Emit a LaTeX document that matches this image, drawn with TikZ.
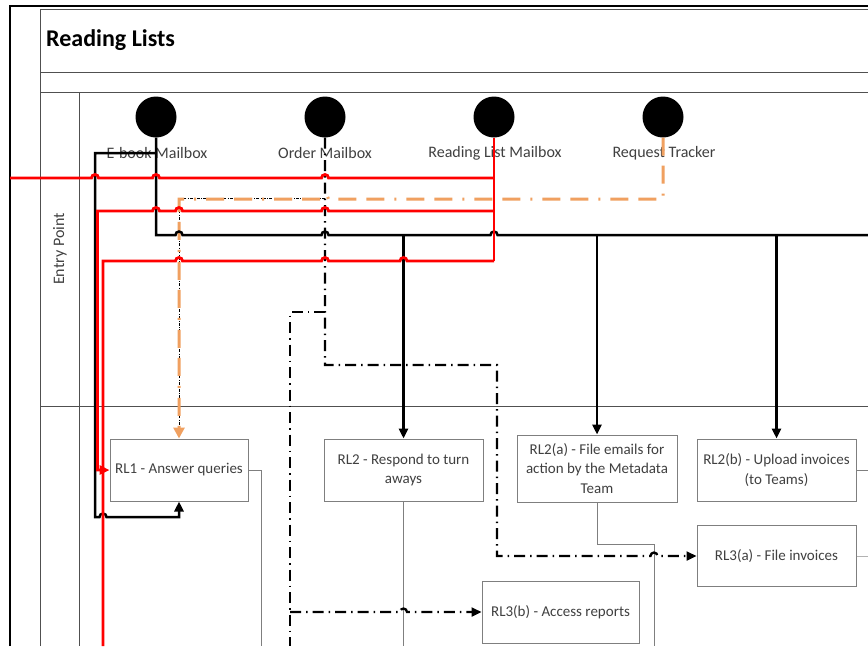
\documentclass[tikz,border=0pt]{standalone}
\usepackage{fontspec}
\setmainfont{Carlito}
\usetikzlibrary{arrows.meta}
\definecolor{tgray}{HTML}{404040}
\definecolor{lgray}{HTML}{7F7F7F}
\definecolor{fgray}{HTML}{505050}
\definecolor{ored}{HTML}{FF0000}
\definecolor{orng}{HTML}{F0A060}
\newcommand\hopR[2]{-- (#1-3.5,#2) arc[start angle=180,end angle=0,radius=3.5pt]}
\newcommand\hopL[2]{-- (#1+3.5,#2) arc[start angle=0,end angle=180,radius=3.5pt]}
\begin{document}
\begin{tikzpicture}[x=1pt,y=-1pt,
  frame/.style={draw=fgray, line width=0.9pt},
  box/.style={draw=lgray, line width=1pt, text=tgray, font=\fontsize{15}{19.5}\selectfont, align=center, inner sep=2pt},
  src/.style={circle, fill=black, minimum size=41pt, inner sep=0pt},
  lab/.style={text=tgray, font=\fontsize{16}{19}\selectfont, inner sep=0pt},
  redl/.style={draw=ored, line width=2.8pt},
  blkl/.style={draw=black, line width=2.5pt},
  dd/.style={draw=black, line width=2.3pt, dash pattern=on 11pt off 5pt on 1.5pt off 5pt},
  orl/.style={draw=orng, line width=3pt, dash pattern=on 18pt off 10pt on 18pt off 10pt on 2pt off 10pt},
  conn/.style={draw=lgray, line width=1pt},
  tipk/.style={-{Triangle[length=10pt,width=9pt]}},
  tipo/.style={-{Triangle[length=11pt,width=11pt]}},
]
\useasboundingbox (0,0) rectangle (868,646);
\fill[white] (0,0) rectangle (868,646);

% frame
\draw[black, line width=2.2pt] (10,646) -- (10,6) -- (868,6);
\draw[frame] (40,646) -- (40,9) -- (868,9);
\draw[frame] (40,72) -- (868,72);
\draw[frame] (40,92) -- (868,92);
\draw[frame] (79,92) -- (79,646);
\draw[frame] (40,406) -- (868,406);

\node[anchor=west, inner sep=0pt, font=\fontsize{24}{28}\selectfont\bfseries] (title) at (46,40) {Reading Lists};
\node[lab, rotate=90] (ep) at (60,249) {Entry Point};

% sources
\node[src] (c1) at (156,117) {};
\node[src] (c2) at (325,117) {};
\node[src] (c3) at (494,117) {};
\node[src] (c4) at (663,117) {};
\node[lab] (l1) at (157,153) {E-book Mailbox};
\node[lab] (l2) at (325,153) {Order Mailbox};
\node[lab] (l3) at (495,153) {Reading List Mailbox};
\node[lab] (l4) at (664,153) {Request Tracker};

% boxes
\node[box, minimum width=138pt, minimum height=62pt] (rl1) at (179,470) {RL1 - Answer queries};
\node[box, minimum width=159pt, minimum height=62pt] (rl2) at (403.5,470) {RL2 - Respond to turn\\aways};
\node[box, minimum width=160pt, minimum height=67pt] (rl2a) at (597,468.5) {RL2(a) - File emails for\\action by the Metadata\\Team};
\node[box, minimum width=159pt, minimum height=62pt] (rl2b) at (776.5,470) {RL2(b) - Upload invoices\\(to Teams)};
\node[box, minimum width=159pt, minimum height=61pt] (rl3a) at (776.5,556) {RL3(a) - File invoices};
\node[box, minimum width=157pt, minimum height=62pt] (rl3b) at (560.5,612) {RL3(b) - Access reports};

% thin grey connectors
\draw[conn] (rl1.east) -- (261,470) -- (261,646);
\draw[conn] (rl2.south) -- (403.5,646);
\draw[conn] (rl2a.south) -- (597,544) -- (654,544) -- (654,646);
\draw[conn] (rl2b.east) -- (868,470);
\draw[conn, draw=lgray!60] (rl3a.east) -- (868,556);

% order mailbox dash-dot
\draw[dd, tipk] (c2.south) -- (325,365) -- (497,365) -- (497,556) \hopR{654}{556} -- (rl3a.west);
\draw[dd] (325,312) -- (290,312) -- (290,646);
\draw[dd, tipk] (290,612) \hopR{403.5}{612} -- (rl3b.west);

% thin dotted line to RL1
\draw[black, line width=0.5pt, dash pattern=on 3pt off 1.5pt on 0.6pt off 1.5pt] (325,198) -- (179,198) -- (179,437);
% orange request tracker
\draw[orl, tipo] (c4.south) -- (663,199) \hopL{325}{199} -- (179,199) -- (rl1.north);

% black e-book lines
\draw[blkl] (c1.south) -- (156,235) \hopR{179}{235} \hopR{325}{235} \hopR{494}{235} -- (868,235);
\draw[blkl, tipk] (156,153) -- (95,153) -- (95,517) \hopR{103}{517} -- (179,517) -- (rl1.south);
\draw[blkl, tipk] (403.5,235) -- (rl2.north);
\draw[blkl, tipk] (597,235) -- (rl2a.north);
\draw[blkl, tipk] (776.5,235) -- (rl2b.north);

% red reading list lines
\draw[redl] (c3.south) -- (494,261);
\draw[redl] (10,178) \hopR{95}{178} \hopR{156}{178} \hopR{325}{178} -- (494,178);
\draw[redl, tipk] (494,211) \hopL{325}{211} \hopL{179}{211} \hopL{156}{211} -- (97.5,211) |- (rl1.west);
\draw[redl] (494,261) \hopL{403.5}{261} \hopL{325}{261} \hopL{179}{261} -- (103,261) -- (103,646);
\end{tikzpicture}
\end{document}
